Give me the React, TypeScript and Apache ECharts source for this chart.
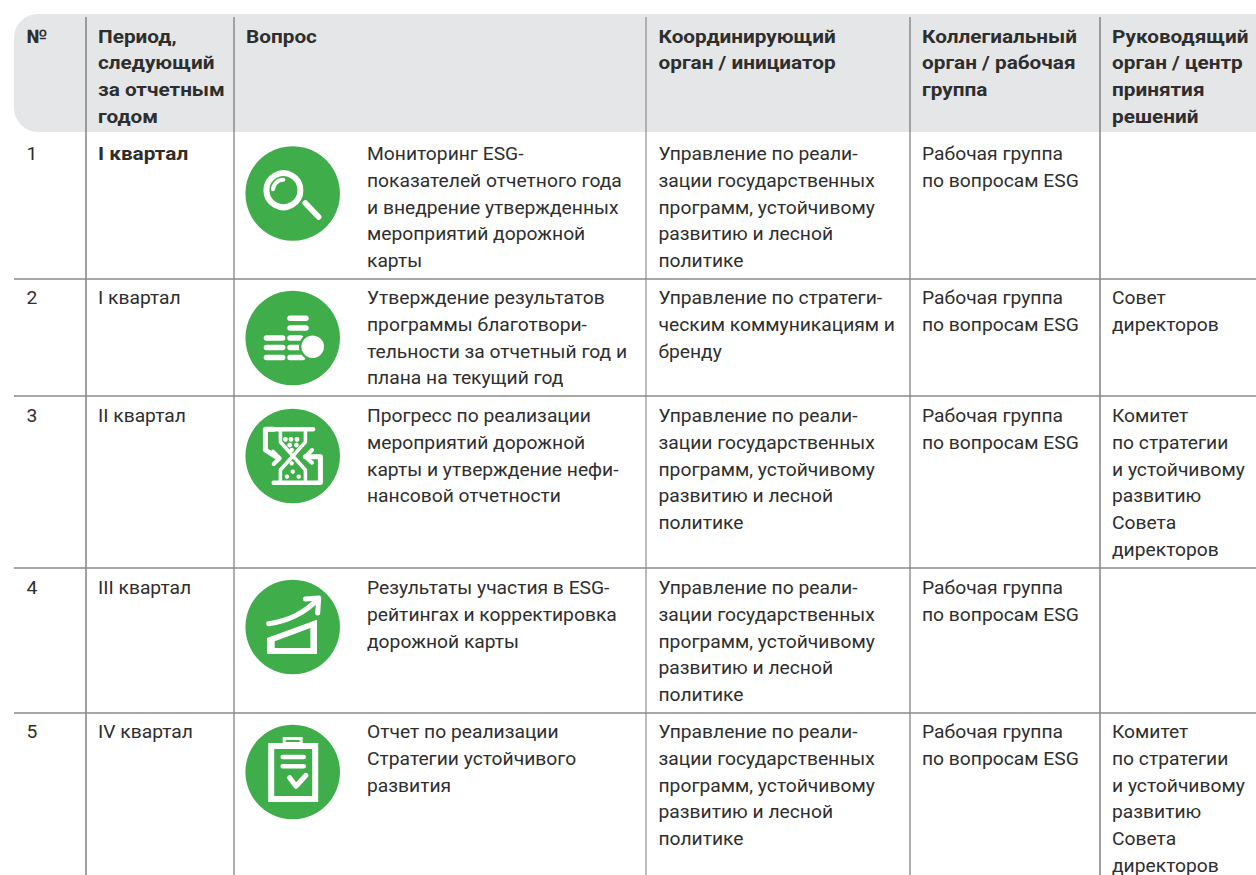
import React, { useEffect, useRef } from "react";
import * as echarts from "echarts";

const headers = [
  "№",
  "Период,\nследующий\nза отчетным\nгодом",
  "Вопрос",
  "Координирующий\nорган / инициатор",
  "Коллегиальный\nорган / рабочая\nгруппа",
  "Руководящий\nорган / центр\nпринятия\nрешений",
];
const numbers = ["1", "2", "3", "4", "5"];
const periods = ["I квартал", "I квартал", "II квартал", "III квартал", "IV квартал"];
const questions = [
  "Мониторинг ESG-\nпоказателей отчетного года\nи внедрение утвержденных\nмероприятий дорожной\nкарты",
  "Утверждение результатов\nпрограммы благотвори-\nтельности за отчетный год и\nплана на текущий год",
  "Прогресс по реализации\nмероприятий дорожной\nкарты и утверждение нефи-\nнансовой отчетности",
  "Результаты участия в ESG-\nрейтингах и корректировка\nдорожной карты",
  "Отчет по реализации\nСтратегии устойчивого\nразвития",
];
const stateProgram = "Управление по реали-\nзации государственных\nпрограмм, устойчивому\nразвитию и лесной\nполитике";
const coordinators = [
  stateProgram,
  "Управление по стратеги-\nческим коммуникациям и\nбренду",
  stateProgram,
  stateProgram,
  stateProgram,
];
const workGroup = "Рабочая группа\nпо вопросам ESG";
const collegial = [workGroup, workGroup, workGroup, workGroup, workGroup];
const committee = "Комитет\nпо стратегии\nи устойчивому\nразвитию\nСовета\nдиректоров";
const governing = ["", "Совет\nдиректоров", committee, "", committee];

const FONT = "Roboto, 'Noto Sans', sans-serif";
const LH = 26.75;
const TEXT = "#2e2e2e";
const GREEN = "#3fae4a";
const colText = [26.5, 98, 246, 658.5, 922, 1112];
const questionX = 367;
const vLines = [86, 234, 646, 910, 1100];
const hLines = [279, 396, 568, 713];
const rowTop = [140.4, 284.4, 402.4, 574.4, 718.4];
const iconY = [193.5, 338, 456, 627, 772];
const iconX = 292.7;

function txt(text: string, x: number, y: number, bold = false): any {
  return {
    type: "text",
    silent: true,
    x,
    y,
    scaleX: bold ? 1.11 : 1.03,
    style: {
      text,
      x: 0,
      y: 0,
      fill: TEXT,
      fontFamily: FONT,
      fontSize: 18.7,
      fontWeight: bold ? 700 : 400,
      lineHeight: LH,
      verticalAlign: "top",
      align: "left",
    },
  };
}

const W = { stroke: "#fff", fill: "none", lineCap: "round", lineJoin: "round" } as const;
const line = (x1: number, y1: number, x2: number, y2: number, w: number): any => ({
  type: "line",
  shape: { x1, y1, x2, y2 },
  style: { stroke: "#fff", lineWidth: w, lineCap: "round" },
});
const poly = (points: number[][], w: number): any => ({
  type: "polyline",
  shape: { points },
  style: { ...W, lineWidth: w },
});
const dot = (cx: number, cy: number, r: number, fill = "#fff"): any => ({
  type: "circle",
  shape: { cx, cy, r },
  style: { fill },
});

// icon parts are drawn relative to the centre of each green disc
const iconParts: any[][] = [
  [
    { type: "circle", shape: { cx: -9.3, cy: -3.3, r: 17 }, style: { fill: "none", stroke: "#fff", lineWidth: 6 } },
    { type: "arc", shape: { cx: -9.3, cy: -3.3, r: 10.5, startAngle: Math.PI * 1.03, endAngle: Math.PI * 1.5 }, style: { ...W, lineWidth: 4 } },
    line(12.5, 9.5, 26, 23.5, 5.5),
  ],
  [
    line(-2.7, -19.7, 13.3, -19.7, 5.4),
    line(-2.7, -10, 13.3, -10, 5.4),
    line(-26.3, 0, -10, 0, 5.4),
    line(-26.3, 9.5, -10, 9.5, 5.4),
    line(-26.3, 19.5, -10, 19.5, 5.4),
    line(-2.7, 0, 8, 0, 5.4),
    line(-2.7, 9.5, 8, 9.5, 5.4),
    line(-2.7, 19.5, 10, 19.5, 5.4),
    dot(20, 8.7, 13.8, GREEN),
    dot(20, 8.7, 11.3),
  ],
  [
    line(-25.7, -26.7, 20.3, -26.7, 4.5),
    line(-19, 26.7, 27.7, 26.7, 4.5),
    poly([[-12.3, -26.7], [-12.3, -14], [12.7, 14], [12.7, 26.7]], 3.5),
    poly([[12.7, -26.7], [12.7, -14], [-12.3, 14], [-12.3, 26.7]], 3.5),
    poly([[-19, -26.7], [-27.3, -26.7], [-27.3, -6], [-14, 2.3]], 5),
    poly([[-19.7, -4.3], [-13, 2.3], [-19, 8]], 4),
    poly([[27.7, 25.7], [27.7, 0.7], [12.7, 0.7]], 5),
    poly([[19.3, -6], [12.7, 0.7], [19.3, 6.7]], 4),
    dot(-7.3, -16.7, 2.4), dot(-1.7, -16.7, 2.4), dot(4.3, -16.7, 2.4),
    dot(-3, -11, 2.4), dot(3.7, -11, 2.4), dot(-1, -6, 2.2), dot(-1, 7.3, 2.2),
    dot(0, 15.7, 2.2), dot(-5.7, 20.7, 2.2), dot(6, 20.7, 2.2),
  ],
  [
    {
      type: "bezierCurve",
      shape: { x1: -24, y1: -3.3, cpx1: -6, cpy1: -5.7, cpx2: 12.7, cpy2: -14, x2: 25, y2: -28, percent: 1 },
      style: { ...W, lineWidth: 5 },
    },
    poly([[12.7, -28], [26, -29], [25, -14]], 5),
    { type: "polygon", shape: { points: [[-25.7, 11], [24.3, -7.3], [24.3, 27], [-25.7, 27]] }, style: { fill: "#fff" } },
    { type: "polygon", shape: { points: [[-18, 14.3], [17.7, 1], [17.7, 21], [-18, 21]] }, style: { fill: GREEN } },
  ],
  [
    { type: "rect", shape: { x: -21.5, y: -26, width: 44, height: 53 }, style: { fill: "none", stroke: "#fff", lineWidth: 6 } },
    { type: "rect", shape: { x: -8.5, y: -33.5, width: 17, height: 5 }, style: { fill: "none", stroke: "#fff", lineWidth: 3 } },
    line(-10, -15, 11, -15, 4.5),
    line(-10, -5.7, 11, -5.7, 4.5),
    poly([[-3, 5.7], [3.3, 14.3], [13.3, 3.3]], 5),
  ],
];

export default function App() {
  const ref = useRef<HTMLDivElement>(null);
  useEffect(() => {
    document.body.style.margin = "0";
    const chart = echarts.init(ref.current!, undefined, { renderer: "svg" });
    const els: any[] = [];
    els.push({
      type: "rect",
      silent: true,
      shape: { x: 14, y: 14, width: 1268, height: 118, r: 24 },
      style: { fill: "#e5e6e8" },
    });
    vLines.forEach((x, i) =>
      els.push({
        type: "line",
        silent: true,
        shape: { x1: x, y1: 17, x2: x, y2: 875 },
        style: { stroke: i % 2 === 0 ? "#7a7a7a" : "#5f5f5f", lineWidth: i === 0 || i === 4 ? 1.4 : 1 },
      })
    );
    hLines.forEach((y) =>
      els.push({
        type: "line",
        silent: true,
        shape: { x1: 14, y1: y, x2: 1256, y2: y },
        style: { stroke: "#8a8a8a", lineWidth: 1.3 },
      })
    );
    headers.forEach((h, i) => els.push(txt(h, colText[i], 23, true)));
    numbers.forEach((n, r) => {
      const y = rowTop[r];
      els.push(txt(n, colText[0], y));
      els.push(txt(periods[r], colText[1], y, r === 0));
      els.push(txt(questions[r], questionX, y));
      els.push(txt(coordinators[r], colText[3], y));
      els.push(txt(collegial[r], colText[4], y));
      if (governing[r]) els.push(txt(governing[r], colText[5], y));
      els.push({
        type: "group",
        x: iconX,
        y: iconY[r],
        silent: true,
        children: [dot(0, 0, 47.3, GREEN), ...iconParts[r]],
      });
    });
    chart.setOption({ animation: false, graphic: { elements: els } });
    return () => chart.dispose();
  }, []);
  return <div ref={ref} style={{ width: 1256, height: 875, background: "#fff" }} />;
}
